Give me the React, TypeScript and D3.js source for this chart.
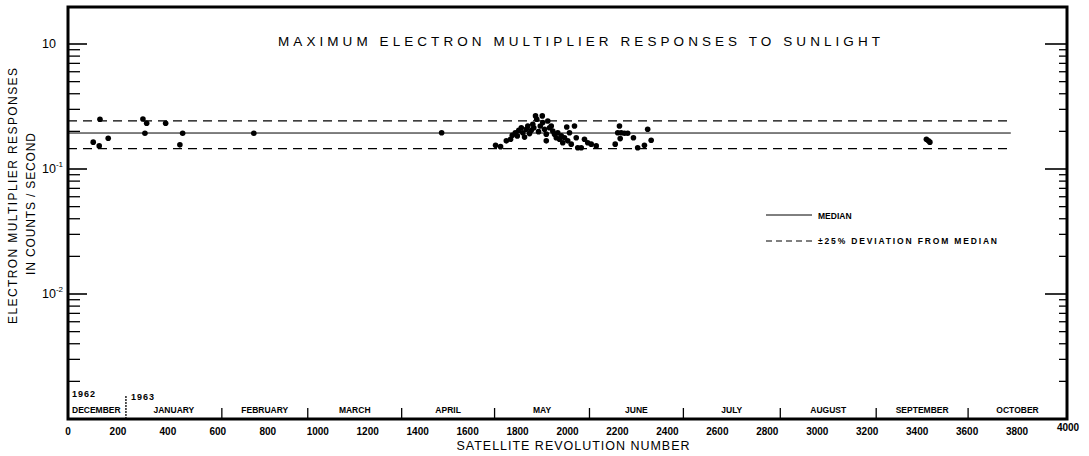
import React from 'react';
import * as d3 from 'd3';

// satellite revolution numbers and peak responses (counts / second)
const revolutions = [
  101, 125, 128, 161, 300, 308, 315, 391, 448, 459, 744, 1496,
  1712, 1732, 1755, 1772, 1779, 1791, 1799, 1805, 1815, 1821, 1828, 1835,
  1841, 1848, 1855, 1861, 1865, 1872, 1877, 1884, 1891, 1899, 1901, 1908,
  1915, 1915, 1921, 1928, 1935, 1941, 1948, 1955, 1961, 1968, 1975, 1981,
  1988, 1997, 2001, 2008, 2015, 2028, 2035, 2041, 2055, 2068, 2081, 2095,
  2115, 2191, 2201, 2208, 2211, 2215, 2228, 2241, 2264, 2281, 2308, 2321,
  2335, 3437, 3445, 3451,
];
const responses = [
  0.164, 0.153, 0.250, 0.176, 0.251, 0.193, 0.232, 0.232, 0.156, 0.193, 0.193, 0.195,
  0.155, 0.151, 0.168, 0.173, 0.186, 0.195, 0.184, 0.204, 0.214, 0.195, 0.180, 0.208,
  0.221, 0.192, 0.204, 0.228, 0.214, 0.266, 0.250, 0.199, 0.221, 0.266, 0.235, 0.208,
  0.190, 0.168, 0.242, 0.214, 0.221, 0.201, 0.190, 0.178, 0.195, 0.173, 0.184, 0.162,
  0.178, 0.217, 0.168, 0.195, 0.158, 0.221, 0.178, 0.148, 0.148, 0.173, 0.162, 0.158,
  0.153, 0.158, 0.195, 0.221, 0.175, 0.195, 0.193, 0.193, 0.178, 0.148, 0.155, 0.208,
  0.170, 0.173, 0.168, 0.164,
];

const median = 0.194;
const deviation = 0.25;
const lineEnd = 3775;

// month boundaries (revolution number) and names
const monthBounds = [0, 232, 616, 960, 1336, 1708, 2088, 2464, 2852, 3236, 3604, 4000];
const months = ['DECEMBER', 'JANUARY', 'FEBRUARY', 'MARCH', 'APRIL', 'MAY', 'JUNE', 'JULY', 'AUGUST', 'SEPTEMBER', 'OCTOBER'];
const xTicks = d3.range(0, 4001, 200);
const yMajor = [1, 0.1, 0.01];
const yMajorLabels = [['10', ''], ['10', '-1'], ['10', '-2']];

const W = 1089;
const H = 456;
const left = 68, right = 1067, top = 7, bottom = 419;
const font = '"Liberation Sans", Arial, sans-serif';

const App = () => {
  const x = d3.scaleLinear().domain([0, 4000]).range([left, right]);
  const y = d3.scaleLog().domain([1e-3, 1]).range([bottom, 44]);

  const minor: number[] = [];
  [-3, -2, -1].forEach((e) => {
    for (let m = 2; m <= 9; m++) minor.push(m * Math.pow(10, e));
  });

  const hline = (v: number) => `M${x(0)},${y(v)}H${x(lineEnd)}`;

  return (
    <svg width={W} height={H} style={{ position: 'absolute', left: 0, top: 0, background: '#fff' }}
      fontFamily={font}>
      {/* frame */}
      <rect x={left} y={top} width={right - left} height={bottom - top}
        fill="none" stroke="#000" strokeWidth={3} />

      {/* y ticks, both sides */}
      {minor.map((v, i) => (
        <g key={i} stroke="#000" strokeWidth={1.3}>
          <line x1={left} x2={left + 12} y1={y(v)} y2={y(v)} />
          <line x1={right} x2={right - 8} y1={y(v)} y2={y(v)} />
        </g>
      ))}
      {yMajor.map((v, i) => (
        <g key={i}>
          <line x1={left} x2={left + 19} y1={y(v)} y2={y(v)} stroke="#000" strokeWidth={1.6} />
          <line x1={right} x2={right - 22} y1={y(v)} y2={y(v)} stroke="#000" strokeWidth={1.6} />
          <text x={left - 26} y={y(v) + 4} fontSize={12.5} textAnchor="start">
            {yMajorLabels[i][0]}
            {yMajorLabels[i][1] && <tspan dy={-6} fontSize={8}>{yMajorLabels[i][1]}</tspan>}
          </text>
        </g>
      ))}

      {/* y axis title */}
      <text transform={`translate(17,196) rotate(-90)`} textAnchor="middle" fontSize={12}
        textLength={256} lengthAdjust="spacing">ELECTRON MULTIPLIER RESPONSES</text>
      <text transform={`translate(35,204) rotate(-90)`} textAnchor="middle" fontSize={12}
        textLength={142} lengthAdjust="spacing">IN COUNTS / SECOND</text>

      {/* title */}
      <text x={278} y={46} fontSize={13.5} textLength={602} lengthAdjust="spacing">
        MAXIMUM ELECTRON MULTIPLIER RESPONSES TO SUNLIGHT
      </text>

      {/* median and +-25% lines */}
      <path d={hline(median)} stroke="#000" strokeWidth={1} fill="none" />
      <path d={hline(median * (1 + deviation))} stroke="#000" strokeWidth={1.3} fill="none" strokeDasharray="9,6" />
      <path d={hline(median * (1 - deviation))} stroke="#000" strokeWidth={1.3} fill="none" strokeDasharray="9,6" />

      {/* points */}
      {revolutions.map((r, i) => (
        <circle key={i} cx={x(r)} cy={y(responses[i])} r={2.8} fill="#000" />
      ))}

      {/* legend */}
      <line x1={766} x2={812} y1={215} y2={215} stroke="#000" strokeWidth={1} />
      <text x={818} y={218.5} fontSize={8.5} fontWeight="bold">MEDIAN</text>
      <line x1={766} x2={812} y1={241} y2={241} stroke="#000" strokeWidth={1.2} strokeDasharray="6,4" />
      <text x={818} y={244} fontSize={8.5} fontWeight="bold" textLength={179} lengthAdjust="spacing">
        ±25% DEVIATION FROM MEDIAN
      </text>

      {/* month dividers and names */}
      {monthBounds.slice(1, -1).map((b, i) => (
        <line key={i} x1={x(b)} x2={x(b)} y1={i === 0 ? 396 : 408} y2={bottom}
          stroke="#000" strokeWidth={1.3} strokeDasharray={i === 0 ? '2,1' : undefined} />
      ))}
      {months.map((m, i) => (
        <text key={m} x={i === 0 ? left + 4 : x((monthBounds[i] + monthBounds[i + 1]) / 2)} y={413}
          fontSize={8.5} fontWeight="bold" textAnchor={i === 0 ? 'start' : 'middle'}>{m}</text>
      ))}
      <text x={left + 4} y={397} fontSize={9} fontWeight="bold" letterSpacing={1}>1962</text>
      <text x={x(232) + 5} y={400} fontSize={9} fontWeight="bold" letterSpacing={1}>1963</text>

      {/* x tick labels */}
      {xTicks.map((t) => (
        <text key={t} x={t === 4000 ? x(t) + 1 : x(t)} y={t === 4000 ? 431 : 435}
          fontSize={10} fontWeight="bold" textAnchor="middle">{t}</text>
      ))}
      <text x={573} y={450} fontSize={12.5} textAnchor="middle" textLength={233} lengthAdjust="spacing">
        SATELLITE REVOLUTION NUMBER
      </text>
    </svg>
  );
};

export default App;
